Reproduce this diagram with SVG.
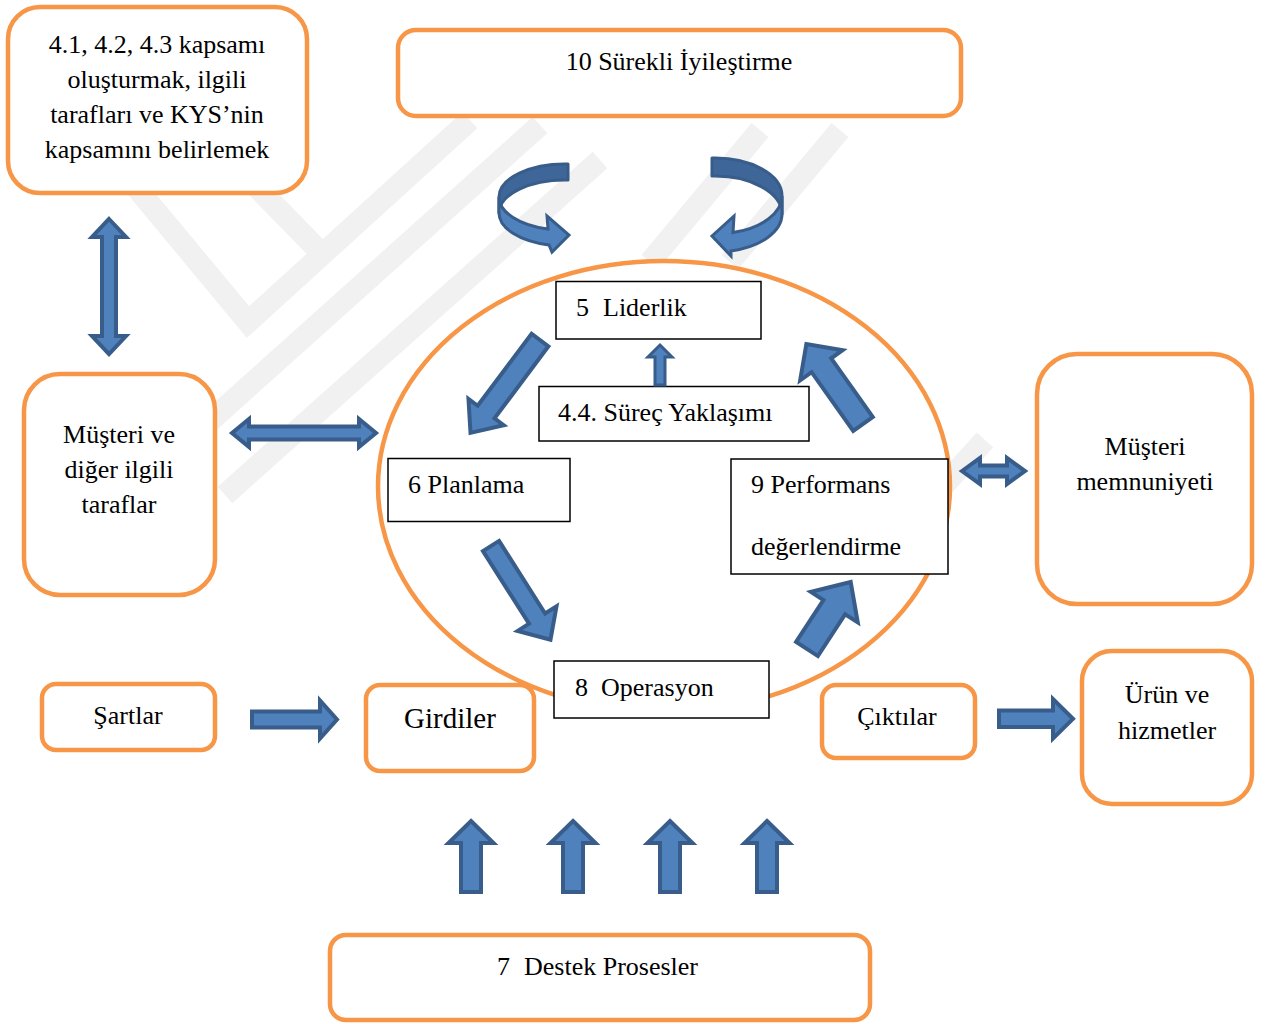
<svg xmlns="http://www.w3.org/2000/svg" width="1275" height="1024" viewBox="0 0 1275 1024">
<defs>
<style>
.ob{fill:#fff;stroke:#F79646;stroke-width:4.5}
.bb{fill:#fff;stroke:#000;stroke-width:1.5}
.t{font-family:"Liberation Serif","Times New Roman",serif;font-size:26px;fill:#000}
.c{text-anchor:middle}
.ar{fill:#4F81BD;stroke:#385D8A;stroke-width:4;stroke-linejoin:miter}
.back{fill:#3E6698;stroke:#385D8A;stroke-width:3;stroke-linejoin:round}
.front{fill:#4F81BD;stroke:#385D8A;stroke-width:3;stroke-linejoin:miter}
.wm{fill:none;stroke:#F1F1F1;stroke-width:22;stroke-linecap:butt;stroke-linejoin:miter}
</style>
<polygon id="upArrow" points="0,821 22.5,843 10,843 10,892 -10,892 -10,843 -22.5,843"/>
</defs>
<rect x="0" y="0" width="1275" height="1024" fill="#fff"/>

<g id="watermark">
<polyline class="wm" points="130,180 248,322 470,120"/>
<polyline class="wm" points="250,180 322,254"/>
<polyline class="wm" points="200,430 540,125"/>
<polyline class="wm" points="225,495 600,160"/>
<polyline class="wm" stroke-width="16" points="650,262 760,130"/>
<polyline class="wm" stroke-width="16" points="730,262 840,130"/>
<polyline class="wm" stroke-width="18" points="935,495 985,440"/>
</g>

<g id="cycle">
<ellipse cx="664" cy="486.5" rx="286" ry="225.5" fill="#fff" stroke="#F79646" stroke-width="4.5"/>
</g>

<g id="n-liderlik">
<rect class="bb" x="556" y="281.5" width="205" height="57.5"/>
<text class="t" y="316"><tspan x="576">5</tspan><tspan x="603">Liderlik</tspan></text>
</g>
<g id="n-surec">
<rect class="bb" x="539" y="386.5" width="270" height="54.5"/>
<text class="t" x="558" y="421">4.4. Süreç Yaklaşımı</text>
</g>
<g id="n-planlama">
<rect class="bb" x="388" y="458.5" width="182" height="63"/>
<text class="t" x="408" y="493">6 Planlama</text>
</g>
<g id="n-performans">
<rect class="bb" x="731" y="459" width="217" height="115"/>
<text class="t" x="751" y="493">9 Performans</text>
<text class="t" x="751" y="555">değerlendirme</text>
</g>
<g id="n-operasyon">
<rect class="bb" x="554" y="661" width="215" height="57"/>
<text class="t" y="696"><tspan x="575">8</tspan><tspan x="601">Operasyon</tspan></text>
</g>

<g id="n-kapsam">
<rect class="ob" x="8" y="7" width="299" height="186" rx="32"/>
<text class="t c" x="157" y="53">4.1, 4.2, 4.3 kapsamı</text>
<text class="t c" x="157" y="88">oluşturmak, ilgili</text>
<text class="t c" x="157" y="123">tarafları ve KYS’nin</text>
<text class="t c" x="157" y="158">kapsamını belirlemek</text>
</g>
<g id="n-iyilestirme">
<rect class="ob" x="398" y="30" width="563" height="86" rx="18"/>
<text class="t c" x="679" y="70">10 Sürekli İyileştirme</text>
</g>
<g id="n-musteri">
<rect class="ob" x="24" y="374" width="191" height="221" rx="36"/>
<text class="t c" x="119" y="443">Müşteri ve</text>
<text class="t c" x="119" y="478">diğer ilgili</text>
<text class="t c" x="119" y="513">taraflar</text>
</g>
<g id="n-memnuniyet">
<rect class="ob" x="1037" y="354" width="215" height="250" rx="40"/>
<text class="t c" x="1145" y="455">Müşteri</text>
<text class="t c" x="1145" y="490">memnuniyeti</text>
</g>
<g id="n-sartlar">
<rect class="ob" x="42" y="684" width="173" height="66" rx="14"/>
<text class="t c" x="128" y="724">Şartlar</text>
</g>
<g id="n-girdiler">
<rect class="ob" x="366" y="685" width="168" height="86" rx="14"/>
<text class="t c" x="450" y="728" style="font-size:29px">Girdiler</text>
</g>
<g id="n-ciktilar">
<rect class="ob" x="822" y="685" width="153" height="73" rx="14"/>
<text class="t c" x="897" y="725">Çıktılar</text>
</g>
<g id="n-urun">
<rect class="ob" x="1082" y="651" width="170" height="153" rx="30"/>
<text class="t c" x="1167" y="703">Ürün ve</text>
<text class="t c" x="1167" y="739">hizmetler</text>
</g>
<g id="n-destek">
<rect class="ob" x="330" y="935" width="540" height="85" rx="16"/>
<text class="t" y="975"><tspan x="497">7</tspan><tspan x="524">Destek Prosesler</tspan></text>
</g>

<g id="connectors">
<g id="curve-left">
<path class="back" d="M568,164.1 A66,33 0 0,0 499,197 L499,213 A66,33 0 0,1 568,180.1 Z"/>
<path class="front" d="M499,197 A66,33 0 0,0 548,229 L547,216 L569,235 L552,252 L549,245 A66,33 0 0,1 499,213 Z"/>
</g>
<g id="curve-right">
<path class="back" d="M712,158.1 A67,38 0 0,1 782,196 L782,214 A67,38 0 0,0 712,176.1 Z"/>
<path class="front" d="M782,196 A67,38 0 0,1 733,232.6 L734,216 L712,236 L731,256 L731,250.9 A67,38 0 0,0 782,214 Z"/>
</g>
<polygon class="ar" transform="translate(540,340) rotate(126.8)" points="0,-10.5 90,-10.5 90,-22 116,0 90,22 90,10.5 0,10.5"/>
<polygon class="ar" transform="translate(863,424) rotate(-125.3)" points="0,-12 72,-12 72,-26 98,0 72,26 72,12 0,12"/>
<polygon class="ar" transform="translate(491,546) rotate(57.6)" points="0,-9.5 86,-9.5 86,-23 111,0 86,23 86,9.5 0,9.5"/>
<polygon class="ar" transform="translate(807,649) rotate(-56.9)" points="0,-13 50,-13 50,-28 80,0 50,28 50,13 0,13"/>
<polygon class="ar" style="stroke-width:3" points="655,385 655,357 648,357 660,345 672,357 665,357 665,385"/>
<polygon class="ar" points="109,219 126,237 116,237 116,336 126,336 109,354 92,336 102,336 102,237 92,237"/>
<polygon class="ar" points="232,433 249,419 249,426.5 359,426.5 359,419 376,433 359,447 359,439.5 249,439.5 249,447"/>
<polygon class="ar" points="962,471 980,458 980,465.5 1007,465.5 1007,458 1025,471 1007,484 1007,476.5 980,476.5 980,484"/>
<polygon class="ar" points="252,711.5 320,711.5 320,700.5 337,719.5 320,738.5 320,727.5 252,727.5"/>
<polygon class="ar" points="999,710.5 1053,710.5 1053,699 1073,718.8 1053,738.5 1053,727 999,727"/>
<use href="#upArrow" class="ar" transform="translate(471,0)"/>
<use href="#upArrow" class="ar" transform="translate(573,0)"/>
<use href="#upArrow" class="ar" transform="translate(670,0)"/>
<use href="#upArrow" class="ar" transform="translate(767,0)"/>
</g>
</svg>
